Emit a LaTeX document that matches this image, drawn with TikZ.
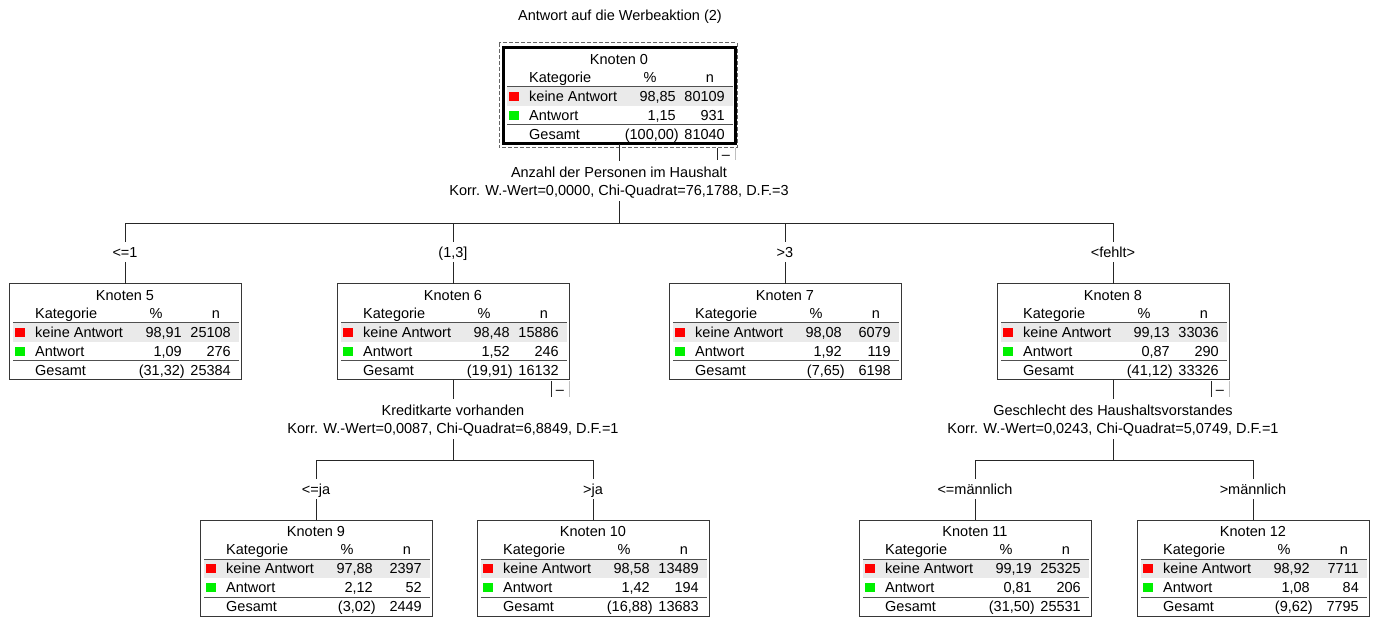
\documentclass[tikz,border=0pt]{standalone}
\usepackage{fontspec}
\setmainfont{Liberation Sans}
\definecolor{kred}{RGB}{255,0,0}
\definecolor{kgreen}{RGB}{0,240,0}
\definecolor{band}{RGB}{234,234,234}
\definecolor{frame}{RGB}{55,55,55}
\definecolor{sepc}{RGB}{80,80,80}
\tikzset{
  txt/.style={inner sep=0pt, text height=10.4pt, text depth=0pt, font=\fontsize{14.5}{17}\selectfont},
  kbox/.style={draw=frame, line width=1pt, minimum width=232pt, minimum height=96pt, inner sep=0pt, outer sep=0pt},
  kboxzero/.style={draw=black, line width=3pt, minimum width=232pt, minimum height=96pt, inner sep=0pt, outer sep=0pt},
  splitlbl/.style={txt, inner ysep=6pt},
  branchlbl/.style={txt, inner ysep=5pt},
  conn/.style={draw=black!85, line width=1pt},
  sepl/.style={draw=sepc, line width=1pt},
}
\newcommand{\ktable}[8]{%
  \fill[band] ([shift={(4,39)}]#1.north west) rectangle ([shift={(-2,58)}]#1.north east);
  \draw[sepl] ([shift={(4,39)}]#1.north west) -- ([shift={(-2,39)}]#1.north east);
  \draw[sepl] ([shift={(4,77)}]#1.north west) -- ([shift={(-2,77)}]#1.north east);
  \node[txt] (#1title) at ([shift={(0,11)}]#1.north) {#2};
  \node[txt,anchor=west] (#1kat) at ([shift={(26,29)}]#1.north west) {Kategorie};
  \node[txt] (#1pct) at ([shift={(147,29)}]#1.north west) {\%};
  \node[txt] (#1n) at ([shift={(207,29)}]#1.north west) {n};
  \fill[kred] ([shift={(6,44)}]#1.north west) rectangle ++(10,9);
  \node[txt,anchor=west] (#1ka) at ([shift={(26,48)}]#1.north west) {keine Antwort};
  \node[txt,anchor=east] (#1kap) at ([shift={(173,48)}]#1.north west) {#3};
  \node[txt,anchor=east] (#1kan) at ([shift={(222,48)}]#1.north west) {#4};
  \fill[kgreen] ([shift={(6,63)}]#1.north west) rectangle ++(10,9);
  \node[txt,anchor=west] (#1a) at ([shift={(26,67)}]#1.north west) {Antwort};
  \node[txt,anchor=east] (#1ap) at ([shift={(173,67)}]#1.north west) {#5};
  \node[txt,anchor=east] (#1an) at ([shift={(222,67)}]#1.north west) {#6};
  \node[txt,anchor=west] (#1g) at ([shift={(26,86)}]#1.north west) {Gesamt};
  \node[txt,anchor=east] (#1gp) at ([shift={(176,86)}]#1.north west) {#7};
  \node[txt,anchor=east] (#1gn) at ([shift={(222,86)}]#1.north west) {#8};
}
\newcommand{\kminus}[3]{%
  \draw[conn] ([shift={(-18,#2)}]#1.south east) -- ++(0,#3);
  \draw[black!25, line width=1pt] ([shift={(0,#2)}]#1.south east) -- ++(0,#3);
  \node[txt] (#1minus) at ([shift={(-9,{#2+#3/2})}]#1.south east) {\textendash};
}
\begin{document}
\begin{tikzpicture}[x=1pt,y=-1pt]
\useasboundingbox (0,0) rectangle (1376,617);

\node[txt] (title) at (620,15) {Antwort auf die Werbeaktion (2)};

% Node 0
\node[kboxzero] (k0) at (619,96) {};
\draw[black!60, line width=1pt, dash pattern=on 4pt off 2pt] ([shift={(-4,-5)}]k0.north west) rectangle ([shift={(2,4)}]k0.south east);
\ktable{k0}{Knoten 0}{98,85}{80109}{1,15}{931}{(100,00)}{81040}
\kminus{k0}{4}{12}

\node[splitlbl] (s0a) at (619,172) {Anzahl der Personen im Haushalt};
\node[splitlbl] (s0b) at (619,190) {Korr. W.-Wert=0,0000, Chi-Quadrat=76,1788, D.F.=3};
\coordinate (h0) at (619,224);
\draw[conn] (k0.south) -- (s0a.north);
\draw[conn] (s0b.south) -- (h0);

% level 1 labels
\node[branchlbl] (l5) at (125,252) {<=1};
\node[branchlbl] (l6) at (453,252) {(1,3]};
\node[branchlbl] (l7) at (785,252) {>3};
\node[branchlbl] (l8) at (1113,252) {<fehlt>};

% level 1 boxes
\node[kbox] (k5) at (125,332) {};
\ktable{k5}{Knoten 5}{98,91}{25108}{1,09}{276}{(31,32)}{25384}
\node[kbox] (k6) at (453,332) {};
\ktable{k6}{Knoten 6}{98,48}{15886}{1,52}{246}{(19,91)}{16132}
\kminus{k6}{1}{16}
\node[kbox] (k7) at (785,332) {};
\ktable{k7}{Knoten 7}{98,08}{6079}{1,92}{119}{(7,65)}{6198}
\node[kbox] (k8) at (1113,332) {};
\ktable{k8}{Knoten 8}{99,13}{33036}{0,87}{290}{(41,12)}{33326}
\kminus{k8}{1}{16}

\draw[conn] (h0) -| (l5.north);
\draw[conn] (h0) -| (l6.north);
\draw[conn] (h0) -| (l7.north);
\draw[conn] (h0) -| (l8.north);
\draw[conn] (l5.south) -- (k5.north);
\draw[conn] (l6.south) -- (k6.north);
\draw[conn] (l7.south) -- (k7.north);
\draw[conn] (l8.south) -- (k8.north);

% split of node 6
\node[splitlbl] (s6a) at (453,410) {Kreditkarte vorhanden};
\node[splitlbl] (s6b) at (453,428) {Korr. W.-Wert=0,0087, Chi-Quadrat=6,8849, D.F.=1};
\coordinate (h6) at (453,460);
\draw[conn] (k6.south) -- (s6a.north);
\draw[conn] (s6b.south) -- (h6);

% split of node 8
\node[splitlbl] (s8a) at (1113,410) {Geschlecht des Haushaltsvorstandes};
\node[splitlbl] (s8b) at (1113,428) {Korr. W.-Wert=0,0243, Chi-Quadrat=5,0749, D.F.=1};
\coordinate (h8) at (1113,460);
\draw[conn] (k8.south) -- (s8a.north);
\draw[conn] (s8b.south) -- (h8);

% level 2 labels
\node[branchlbl] (l9) at (316,489) {<=ja};
\node[branchlbl] (l10) at (593,489) {>ja};
\node[branchlbl] (l11) at (975,489) {<=männlich};
\node[branchlbl] (l12) at (1253,489) {>männlich};

% level 2 boxes
\node[kbox] (k9) at (316,568) {};
\ktable{k9}{Knoten 9}{97,88}{2397}{2,12}{52}{(3,02)}{2449}
\node[kbox] (k10) at (593,568) {};
\ktable{k10}{Knoten 10}{98,58}{13489}{1,42}{194}{(16,88)}{13683}
\node[kbox] (k11) at (975,568) {};
\ktable{k11}{Knoten 11}{99,19}{25325}{0,81}{206}{(31,50)}{25531}
\node[kbox] (k12) at (1253,568) {};
\ktable{k12}{Knoten 12}{98,92}{7711}{1,08}{84}{(9,62)}{7795}

\draw[conn] (h6) -| (l9.north);
\draw[conn] (h6) -| (l10.north);
\draw[conn] (h8) -| (l11.north);
\draw[conn] (h8) -| (l12.north);
\draw[conn] (l9.south) -- (k9.north);
\draw[conn] (l10.south) -- (k10.north);
\draw[conn] (l11.south) -- (k11.north);
\draw[conn] (l12.south) -- (k12.north);
\end{tikzpicture}
\end{document}
